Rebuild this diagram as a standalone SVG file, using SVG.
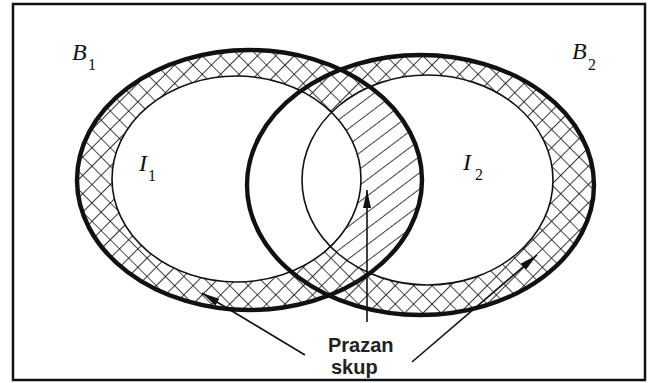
<svg xmlns="http://www.w3.org/2000/svg" width="651" height="383" viewBox="0 0 651 383">
<style>
.thick{fill:none;stroke:#111;stroke-width:4.4}
.thin{fill:none;stroke:#111;stroke-width:1.6}
.conn{fill:none;stroke:#111;stroke-width:1.6}
.lbl{font-family:"Liberation Serif",serif;font-style:italic;fill:#111}
.sub{font-family:"Liberation Serif",serif;fill:#111}
.note{font-family:"Liberation Sans",Arial,sans-serif;font-weight:bold;font-size:20px;fill:#222}
</style>
<defs>
<pattern id="cross" width="13" height="13" patternUnits="userSpaceOnUse" patternTransform="rotate(45)">
<rect width="13" height="13" fill="#fff"/>
<path d="M0 0H13M0 0V13" stroke="#111" stroke-width="1.7"/>
</pattern>
<pattern id="diag" width="20" height="13" patternUnits="userSpaceOnUse" patternTransform="rotate(-37)">
<rect width="20" height="13" fill="#fff"/>
<path d="M0 0H20" stroke="#111" stroke-width="1.6"/>
</pattern>
<clipPath id="clipOuter1"><ellipse cx="249.5" cy="180" rx="172.5" ry="130"/></clipPath>
<marker id="ah" viewBox="0 0 18 8" refX="18" refY="4" markerWidth="18" markerHeight="8" markerUnits="userSpaceOnUse" orient="auto">
<path d="M0 0L18 4L0 8Z" fill="#111"/>
</marker>
</defs>
<rect x="0" y="0" width="651" height="383" fill="#fff"/>
<rect id="frame" x="13" y="4" width="632" height="376" fill="none" stroke="#111" stroke-width="2.5"/>
<g id="fills">
<ellipse cx="249.5" cy="180" rx="172.5" ry="130" fill="url(#cross)"/>
<ellipse cx="420.5" cy="185" rx="173.5" ry="130" fill="url(#cross)"/>
<ellipse cx="236.5" cy="179" rx="124.5" ry="103" fill="#fff"/>
<ellipse cx="427.5" cy="180" rx="125.5" ry="105" fill="#fff"/>
<ellipse cx="427.5" cy="180" rx="125.5" ry="105" fill="url(#diag)" clip-path="url(#clipOuter1)"/>
<ellipse cx="236.5" cy="179" rx="124.5" ry="103" fill="#fff"/>
</g>
<g id="B1"><ellipse class="thick" cx="249.5" cy="180" rx="172.5" ry="130"/></g>
<g id="B2"><ellipse class="thick" cx="420.5" cy="185" rx="173.5" ry="130"/></g>
<g id="I1"><ellipse class="thin" cx="236.5" cy="179" rx="124.5" ry="103"/></g>
<g id="I2"><ellipse class="thin" cx="427.5" cy="180" rx="125.5" ry="105"/></g>
<g id="connectors">
<line class="conn" x1="367" y1="322" x2="367" y2="190" marker-end="url(#ah)"/>
<line class="conn" x1="305" y1="355" x2="202" y2="293" marker-end="url(#ah)"/>
<line class="conn" x1="412" y1="362" x2="537" y2="255" marker-end="url(#ah)"/>
</g>
<g id="labels">
<text class="lbl" x="72" y="60" font-size="24">B</text><text class="sub" x="88" y="70" font-size="16">1</text>
<text class="lbl" x="572" y="59" font-size="24">B</text><text class="sub" x="588" y="70" font-size="16">2</text>
<text class="lbl" x="139" y="171" font-size="24">I</text><text class="sub" x="148" y="181" font-size="16">1</text>
<text class="lbl" x="463" y="170" font-size="24">I</text><text class="sub" x="475" y="180" font-size="16">2</text>
<text class="note" x="328" y="352">Prazan</text>
<text class="note" x="331" y="374">skup</text>
</g>
</svg>
